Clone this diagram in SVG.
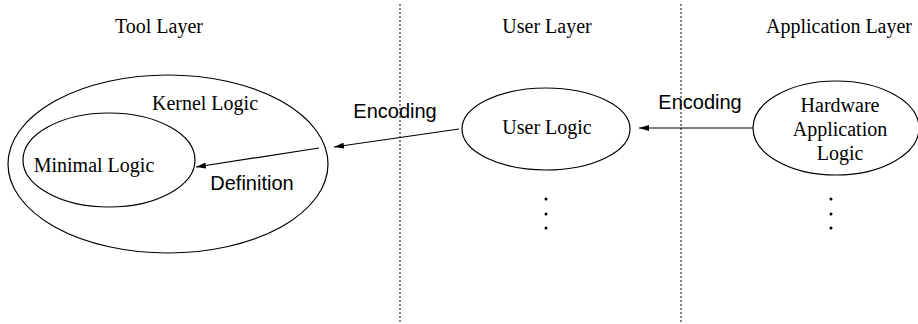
<svg xmlns="http://www.w3.org/2000/svg" width="918" height="324" viewBox="0 0 918 324">
<style>
.node{fill:none;stroke:#000;stroke-width:1.2}
.t{font-family:"Liberation Serif","Times New Roman",serif;font-size:20px;fill:#000;text-anchor:middle}
.s{font-family:"Liberation Sans",Arial,sans-serif;font-size:20px;fill:#000;text-anchor:middle}
.edge{fill:none;stroke:#000;stroke-width:1.2}
.div{stroke:#000;stroke-width:1;stroke-dasharray:2,2}
.dot{fill:#000}
</style>
<defs>
<marker id="ah" viewBox="0 0 10 6" refX="10" refY="3" markerWidth="10" markerHeight="6" markerUnits="userSpaceOnUse" orient="auto">
<path d="M0,0 L10,3 L0,6 Z" fill="#000"/>
</marker>
</defs>
<g id="dividers">
<line class="div" x1="400" y1="4" x2="400" y2="322"/>
<line class="div" x1="681" y1="4" x2="681" y2="322"/>
</g>
<g id="headers">
<text class="t" x="159" y="33">Tool Layer</text>
<text class="t" x="547" y="33">User Layer</text>
<text class="t" x="839" y="33">Application Layer</text>
</g>
<g id="kernel">
<ellipse class="node" cx="168" cy="164" rx="160" ry="89"/>
<text class="t" x="205" y="110">Kernel Logic</text>
</g>
<g id="minimal">
<ellipse class="node" cx="109" cy="160" rx="86" ry="47"/>
<text class="t" x="94" y="172">Minimal Logic</text>
</g>
<g id="user">
<ellipse class="node" cx="546" cy="129" rx="84" ry="41"/>
<text class="t" x="547" y="134">User Logic</text>
</g>
<g id="userdots">
<circle class="dot" cx="546" cy="199" r="1.5"/>
<circle class="dot" cx="546" cy="214" r="1.5"/>
<circle class="dot" cx="546" cy="228" r="1.5"/>
</g>
<g id="app">
<ellipse class="node" cx="836" cy="128" rx="83" ry="47"/>
<text class="t" x="840" y="112">Hardware</text>
<text class="t" x="840" y="136">Application</text>
<text class="t" x="840" y="160">Logic</text>
</g>
<g id="appdots">
<circle class="dot" cx="831" cy="199" r="1.5"/>
<circle class="dot" cx="831" cy="214" r="1.5"/>
<circle class="dot" cx="831" cy="228" r="1.5"/>
</g>
<g id="connectors">
<line class="edge" x1="319" y1="148" x2="196" y2="167" marker-end="url(#ah)"/>
<text class="s" x="252" y="190">Definition</text>
<line class="edge" x1="459" y1="129" x2="334" y2="147" marker-end="url(#ah)"/>
<text class="s" x="395" y="118">Encoding</text>
<line class="edge" x1="753" y1="128" x2="639" y2="128" marker-end="url(#ah)"/>
<text class="s" x="700" y="109">Encoding</text>
</g>
</svg>
